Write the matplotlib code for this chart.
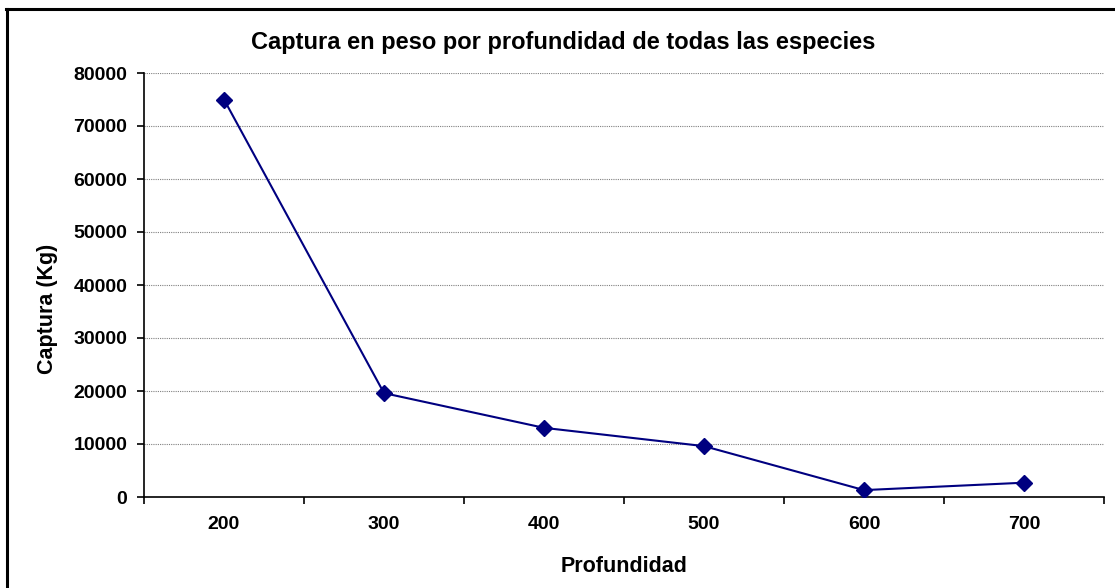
import numpy as np
import matplotlib.pyplot as plt
from matplotlib.lines import Line2D

# Data
depths = ['200', '300', '400', '500', '600', '700']
catch_kg = [75000, 19600, 13050, 9600, 1300, 2700]
y_ticks = [0, 10000, 20000, 30000, 40000, 50000, 60000, 70000, 80000]

plt.rcParams['font.family'] = ['Liberation Sans', 'DejaVu Sans']
plt.rcParams['font.weight'] = 'bold'

W, H = 1115, 588
fig = plt.figure(figsize=(W / 100, H / 100), dpi=100)
ax = fig.add_axes([144 / W, 91 / H, 960 / W, 424 / H])

x = np.arange(len(depths))
ax.plot(x, catch_kg, color='#000080', linewidth=1.5, marker='D',
        markersize=8, markerfacecolor='#000080', markeredgecolor='#000080',
        zorder=3)

ax.set_xlim(-0.5, len(depths) - 0.5)
ax.set_ylim(0, 80000)
ax.set_yticks(y_ticks)
ax.set_yticklabels([str(v) for v in y_ticks], fontsize=14, fontweight='bold')

# Category ticks between categories, labels centered
ax.set_xticks(np.arange(-0.5, len(depths)))
ax.set_xticklabels([''] * (len(depths) + 1))
ax.set_xticks(x, minor=True)
ax.set_xticklabels(depths, minor=True, fontsize=14, fontweight='bold')
ax.tick_params(axis='x', which='major', length=5, width=1.2, direction='out')
ax.tick_params(axis='x', which='minor', length=0, pad=14)
ax.tick_params(axis='y', length=5, width=1.2, direction='out', pad=7)

ax.grid(axis='y', color='#808080', linestyle=(0, (1, 1)), linewidth=0.8)
ax.set_axisbelow(True)
for s in ['top', 'right']:
    ax.spines[s].set_visible(False)
for s in ['left', 'bottom']:
    ax.spines[s].set_linewidth(1.2)

fig.text(563 / W, 1 - 43 / H, 'Captura en peso por profundidad de todas las especies',
         fontsize=17, fontweight='bold', ha='center', va='center')
fig.text(624 / W, 1 - 566 / H, 'Profundidad',
         fontsize=15.5, fontweight='bold', ha='center', va='center')
fig.text(48 / W, 1 - 309 / H, 'Captura (Kg)', rotation=90,
         fontsize=15.5, fontweight='bold', ha='center', va='center')

# Outer chart border (only left and top edges fall inside the picture)
fig.add_artist(Line2D([6.5 / W, 6.5 / W], [0, 1 - 9 / H], transform=fig.transFigure,
                      color='black', linewidth=2.2))
fig.add_artist(Line2D([5.5 / W, 1], [1 - 9 / H, 1 - 9 / H], transform=fig.transFigure,
                      color='black', linewidth=2.2))

fig.savefig('out.png', dpi=100)
